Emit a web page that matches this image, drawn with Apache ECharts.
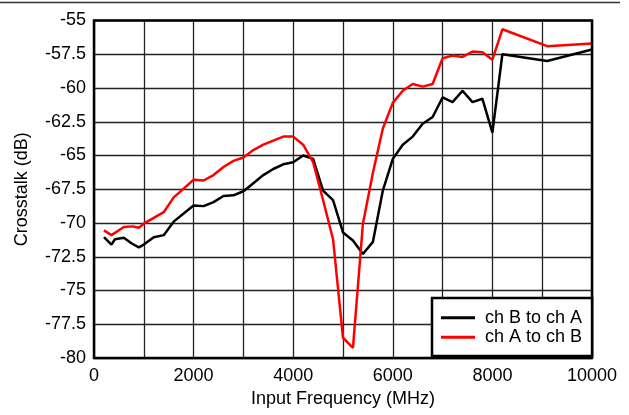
<!DOCTYPE html>
<html>
<head>
<meta charset="utf-8">
<script src="https://cdn.jsdelivr.net/npm/echarts@6/dist/echarts.min.js"></script>
<style>
html,body{margin:0;padding:0;background:#fff;}
#chart{width:629px;height:415px;}
</style>
</head>
<body>
<div id="chart"></div>
<script>
// Data
var seriesNames = ['ch B to ch A', 'ch A to ch B'];
var freqB = [200, 350, 420, 600, 750, 900, 1000, 1200, 1400, 1600, 1800, 2000, 2200, 2400, 2600, 2800, 3000, 3200, 3400, 3600, 3800, 4000, 4200, 4400, 4600, 4800, 5000, 5200, 5400, 5600, 5800, 6000, 6200, 6400, 6600, 6800, 7000, 7200, 7400, 7600, 7800, 8000, 8200, 9100, 10000];
var chBtoA = [-71.05, -71.6, -71.2, -71.1, -71.5, -71.8, -71.6, -71.05, -70.9, -69.9, -69.3, -68.7, -68.75, -68.45, -68.0, -67.95, -67.65, -67.05, -66.45, -66.0, -65.65, -65.5, -65.0, -65.25, -67.6, -68.3, -70.7, -71.3, -72.3, -71.4, -67.6, -65.25, -64.2, -63.6, -62.65, -62.15, -60.7, -61.05, -60.2, -61.05, -60.8, -63.3, -57.5, -58.0, -57.15];
var freqA = [200, 350, 600, 780, 900, 1000, 1400, 1600, 1800, 2000, 2200, 2400, 2600, 2800, 3000, 3200, 3400, 3600, 3800, 4000, 4200, 4400, 4600, 4800, 5000, 5200, 5400, 5600, 5800, 6000, 6200, 6400, 6600, 6800, 7000, 7200, 7400, 7600, 7800, 8000, 8200, 9100, 10000];
var chAtoB = [-70.55, -70.9, -70.3, -70.25, -70.35, -70.05, -69.2, -68.1, -67.45, -66.8, -66.85, -66.45, -65.85, -65.4, -65.15, -64.6, -64.2, -63.9, -63.6, -63.6, -64.2, -65.5, -68.3, -71.2, -78.5, -79.25, -70.05, -66.3, -63.0, -61.1, -60.2, -59.7, -59.9, -59.7, -57.8, -57.6, -57.7, -57.3, -57.35, -57.9, -55.65, -56.9, -56.7];
var xTicks = [0, 2000, 4000, 6000, 8000, 10000];

function pairs(xs, ys) { return xs.map(function (x, i) { return [x, ys[i]]; }); }

var font = 'Liberation Sans, Arial, Helvetica, sans-serif';
var chart = echarts.init(document.getElementById('chart'), null, {renderer: 'canvas'});
chart.setOption({
  animation: false,
  backgroundColor: '#fff',
  textStyle: {fontFamily: font},
  graphic: [{
    type: 'line', shape: {x1: 0, y1: 2.5, x2: 620, y2: 2.5},
    style: {stroke: '#333', lineWidth: 1.5}, z: 10
  }],
  grid: {
    left: 94, right: 37, top: 20.5, bottom: 57,
    show: true, borderColor: '#000', borderWidth: 2.5, containLabel: false, z: 5
  },
  xAxis: {
    type: 'value', min: 0, max: 10000, interval: 1000,
    name: 'Input Frequency (MHz)', nameLocation: 'middle', nameGap: 28,
    nameTextStyle: {fontSize: 18, color: '#000', fontFamily: font},
    axisLine: {show: false}, axisTick: {show: false},
    axisLabel: {
      fontSize: 18, color: '#000', margin: 9, fontFamily: font,
      formatter: function (v) { return xTicks.indexOf(v) >= 0 ? String(v) : ''; }
    },
    splitLine: {show: true, lineStyle: {color: '#222', width: 1.3}}
  },
  yAxis: {
    type: 'value', min: -80, max: -55, interval: 2.5,
    name: 'Crosstalk (dB)', nameLocation: 'middle', nameGap: 63, nameRotate: 90,
    nameTextStyle: {fontSize: 18, color: '#000', fontFamily: font},
    axisLine: {show: false}, axisTick: {show: false},
    axisLabel: {fontSize: 18, color: '#000', margin: 8, fontFamily: font},
    splitLine: {show: true, lineStyle: {color: '#222', width: 1.3}}
  },
  legend: {
    left: 432, top: 298,
    orient: 'vertical',
    data: seriesNames,
    icon: 'rect', itemWidth: 34, itemHeight: 3, itemGap: 0,
    padding: [10, 10, 9, 9],
    borderColor: '#000', borderWidth: 2.5, backgroundColor: '#fff',
    textStyle: {fontSize: 18, color: '#000', lineHeight: 19.5, fontFamily: font, padding: [0, 0, 0, 5]},
    z: 20
  },
  series: [{
    name: seriesNames[0], type: 'line', data: pairs(freqB, chBtoA),
    showSymbol: false, symbol: 'none',
    lineStyle: {color: '#000', width: 2.5}, itemStyle: {color: '#000'}, z: 3
  }, {
    name: seriesNames[1], type: 'line', data: pairs(freqA, chAtoB),
    showSymbol: false, symbol: 'none',
    lineStyle: {color: '#ff0000', width: 2.5}, itemStyle: {color: '#ff0000'}, z: 4
  }]
});
</script>
</body>
</html>
